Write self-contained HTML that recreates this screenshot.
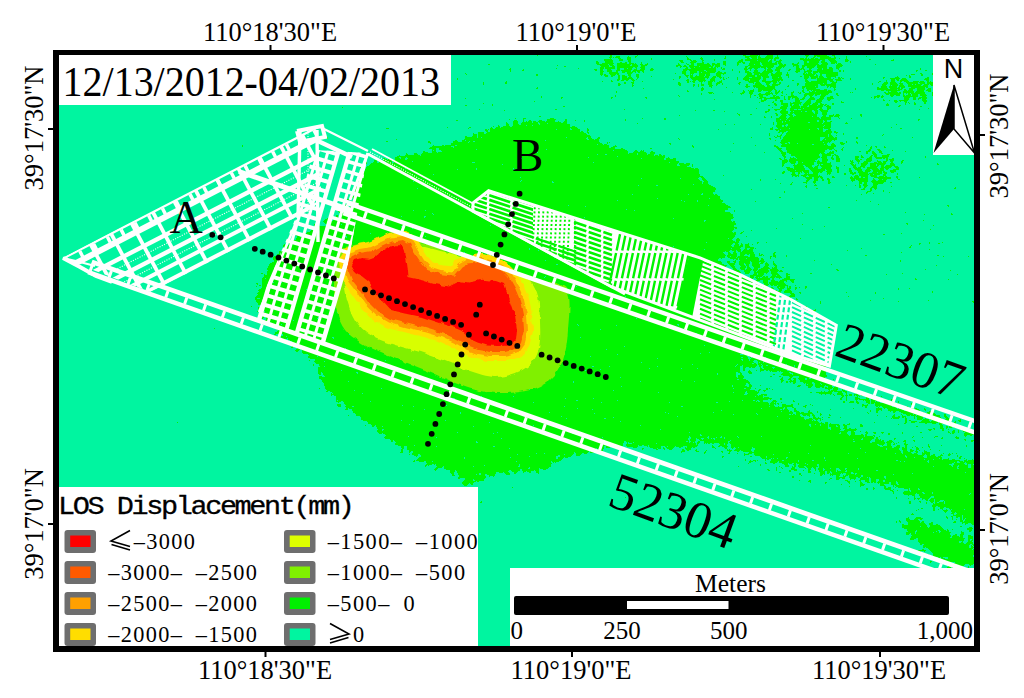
<!DOCTYPE html>
<html><head><meta charset="utf-8">
<style>
html,body{margin:0;padding:0;background:#fff;width:1024px;height:698px;overflow:hidden}
svg{display:block}
.ax{font-family:"Liberation Serif",serif;font-size:26.5px;fill:#000}
.lg{font-family:"Liberation Mono",monospace;font-size:24.5px;fill:#000}
</style></head><body>
<svg width="1024" height="698" viewBox="0 0 1024 698">
<defs><filter id="spkG" x="0" y="0" width="1024" height="698" filterUnits="userSpaceOnUse" color-interpolation-filters="sRGB"><feGaussianBlur in="SourceAlpha" stdDeviation="5" result="b"/><feTurbulence type="fractalNoise" baseFrequency="0.22" numOctaves="2" seed="5" result="t"/><feColorMatrix in="t" type="matrix" values="0 0 0 0 0  0 0 0 0 0  0 0 0 0 0  1 0 0 0 0" result="ta"/><feComposite in="b" in2="ta" operator="arithmetic" k1="0" k2="1.0" k3="1.3" k4="-0.650" result="s"/><feComponentTransfer in="s" result="m"><feFuncA type="discrete" tableValues="0 1"/></feComponentTransfer><feFlood flood-color="#00F500"/><feComposite in2="m" operator="in"/></filter><filter id="spkG2" x="0" y="0" width="1024" height="698" filterUnits="userSpaceOnUse" color-interpolation-filters="sRGB"><feGaussianBlur in="SourceAlpha" stdDeviation="7" result="b"/><feTurbulence type="fractalNoise" baseFrequency="0.2" numOctaves="2" seed="11" result="t"/><feColorMatrix in="t" type="matrix" values="0 0 0 0 0  0 0 0 0 0  0 0 0 0 0  1 0 0 0 0" result="ta"/><feComposite in="b" in2="ta" operator="arithmetic" k1="0" k2="1.0" k3="1.3" k4="-0.650" result="s"/><feComponentTransfer in="s" result="m"><feFuncA type="discrete" tableValues="0 1"/></feComponentTransfer><feFlood flood-color="#00F500"/><feComposite in2="m" operator="in"/></filter><filter id="spkT" x="0" y="0" width="1024" height="698" filterUnits="userSpaceOnUse" color-interpolation-filters="sRGB"><feGaussianBlur in="SourceAlpha" stdDeviation="6" result="b"/><feTurbulence type="fractalNoise" baseFrequency="0.22" numOctaves="2" seed="17" result="t"/><feColorMatrix in="t" type="matrix" values="0 0 0 0 0  0 0 0 0 0  0 0 0 0 0  1 0 0 0 0" result="ta"/><feComposite in="b" in2="ta" operator="arithmetic" k1="0" k2="1.0" k3="1.3" k4="-0.650" result="s"/><feComponentTransfer in="s" result="m"><feFuncA type="discrete" tableValues="0 1"/></feComponentTransfer><feFlood flood-color="#00F5A0"/><feComposite in2="m" operator="in"/></filter><filter id="spkT2" x="0" y="0" width="1024" height="698" filterUnits="userSpaceOnUse" color-interpolation-filters="sRGB"><feGaussianBlur in="SourceAlpha" stdDeviation="8" result="b"/><feTurbulence type="fractalNoise" baseFrequency="0.25" numOctaves="2" seed="23" result="t"/><feColorMatrix in="t" type="matrix" values="0 0 0 0 0  0 0 0 0 0  0 0 0 0 0  1 0 0 0 0" result="ta"/><feComposite in="b" in2="ta" operator="arithmetic" k1="0" k2="1.0" k3="1.6" k4="-0.800" result="s"/><feComponentTransfer in="s" result="m"><feFuncA type="discrete" tableValues="0 1"/></feComponentTransfer><feFlood flood-color="#00F5A0"/><feComposite in2="m" operator="in"/></filter><filter id="spkG3" x="380" y="55" width="600" height="250" filterUnits="userSpaceOnUse" color-interpolation-filters="sRGB"><feGaussianBlur in="SourceAlpha" stdDeviation="6" result="b"/><feTurbulence type="fractalNoise" baseFrequency="0.22" numOctaves="2" seed="29" result="t"/><feColorMatrix in="t" type="matrix" values="0 0 0 0 0  0 0 0 0 0  0 0 0 0 0  1 0 0 0 0" result="ta"/><feComposite in="b" in2="ta" operator="arithmetic" k1="0" k2="0.62" k3="1.8" k4="-0.900" result="s"/><feComponentTransfer in="s" result="m"><feFuncA type="discrete" tableValues="0 1"/></feComponentTransfer><feFlood flood-color="#00F500"/><feComposite in2="m" operator="in"/></filter><filter id="rough" x="300" y="200" width="300" height="220" filterUnits="userSpaceOnUse"><feTurbulence type="fractalNoise" baseFrequency="0.12" numOctaves="2" seed="3"/><feDisplacementMap in="SourceGraphic" scale="5" xChannelSelector="R" yChannelSelector="G"/></filter><clipPath id="stripclip"><polygon points="314,150 368,153 333,348 252,320 294,222"/></clipPath><clipPath id="triclip"><polygon points="62,258 316,124 322,200 292,224 150,292"/></clipPath><clipPath id="indclip"><polygon points="473.0,203.0 488.6,190.7 540.0,207.0 620.0,232.5 700.0,257.8 740.0,274.6 790.0,299.0 836.3,325.3 829.4,366.0 790.0,354.0 612.0,287.0 473.0,211.0"/></clipPath><clipPath id="mc"><rect x="59" y="55" width="915" height="591"/></clipPath></defs>
<rect x="59" y="55" width="915" height="591" fill="#00F5A0"/>
<g clip-path="url(#mc)">
<g filter="url(#spkG)"><path d="M352.0,200.0 C355.3,193.8 357.3,181.2 360.0,175.0 C362.7,168.8 363.0,165.5 368.0,163.0 C373.0,160.5 382.5,161.3 390.0,160.0 C397.5,158.7 403.7,157.3 413.0,155.0 C422.3,152.7 434.8,149.5 446.0,146.0 C457.2,142.5 470.0,137.7 480.0,134.0 C490.0,130.3 497.2,126.2 506.0,124.0 C514.8,121.8 524.0,121.5 533.0,121.0 C542.0,120.5 552.5,119.7 560.0,121.0 C567.5,122.3 571.8,125.8 578.0,129.0 C584.2,132.2 590.7,136.8 597.0,140.0 C603.3,143.2 609.8,146.2 616.0,148.0 C622.2,149.8 627.8,150.2 634.0,151.0 C640.2,151.8 646.8,151.7 653.0,153.0 C659.2,154.3 664.8,156.8 671.0,159.0 C677.2,161.2 685.0,163.0 690.0,166.0 C695.0,169.0 697.0,173.0 701.0,177.0 C705.0,181.0 709.7,185.0 714.0,190.0 C718.3,195.0 723.5,201.7 727.0,207.0 C730.5,212.3 733.8,216.8 735.0,222.0 C736.2,227.2 735.7,233.0 734.0,238.0 C732.3,243.0 727.3,247.3 725.0,252.0 C722.7,256.7 716.7,261.3 720.0,266.0 C723.3,270.7 735.8,275.7 745.0,280.0 C754.2,284.3 765.7,287.8 775.0,292.0 C784.3,296.2 792.2,300.0 801.0,305.0 C809.8,310.0 823.2,315.3 828.0,322.0 C832.8,328.7 830.3,337.7 830.0,345.0 C829.7,352.3 824.3,358.7 826.0,366.0 C827.7,373.3 815.2,377.3 840.0,389.0 C864.8,400.7 952.5,409.5 975.0,436.0 C997.5,462.5 980.0,533.7 975.0,548.0 C970.0,562.3 959.0,530.3 945.0,522.0 C931.0,513.7 908.5,503.8 891.0,498.0 C873.5,492.2 856.5,490.2 840.0,487.0 C823.5,483.8 808.7,483.0 792.0,479.0 C775.3,475.0 756.5,467.7 740.0,463.0 C723.5,458.3 706.3,453.5 693.0,451.0 C679.7,448.5 672.2,448.8 660.0,448.0 C647.8,447.2 629.2,446.2 620.0,446.0 C610.8,445.8 611.5,445.5 605.0,447.0 C598.5,448.5 588.5,453.2 581.0,455.0 C573.5,456.8 566.0,455.5 560.0,458.0 C554.0,460.5 551.3,467.8 545.0,470.0 C538.7,472.2 529.5,470.5 522.0,471.0 C514.5,471.5 505.7,472.2 500.0,473.0 C494.3,473.8 491.7,474.7 488.0,476.0 C484.3,477.3 481.2,479.2 478.0,481.0 C474.8,482.8 471.7,487.3 469.0,487.0 C466.3,486.7 464.8,481.7 462.0,479.0 C459.2,476.3 455.5,472.5 452.0,471.0 C448.5,469.5 444.5,471.0 441.0,470.0 C437.5,469.0 434.5,466.7 431.0,465.0 C427.5,463.3 423.5,462.0 420.0,460.0 C416.5,458.0 413.3,455.3 410.0,453.0 C406.7,450.7 403.3,448.2 400.0,446.0 C396.7,443.8 392.8,442.2 390.0,440.0 C387.2,437.8 385.7,435.3 383.0,433.0 C380.3,430.7 377.0,427.8 374.0,426.0 C371.0,424.2 367.8,424.0 365.0,422.0 C362.2,420.0 360.2,416.5 357.0,414.0 C353.8,411.5 349.2,409.0 346.0,407.0 C342.8,405.0 340.5,404.0 338.0,402.0 C335.5,400.0 333.7,398.0 331.0,395.0 C328.3,392.0 323.8,388.5 322.0,384.0 C320.2,379.5 323.7,373.7 320.0,368.0 C316.3,362.3 309.7,358.3 300.0,350.0 C290.3,341.7 269.2,326.3 262.0,318.0 C254.8,309.7 257.0,306.7 257.0,300.0 C257.0,293.3 259.7,284.3 262.0,278.0 C264.3,271.7 267.2,267.3 271.0,262.0 C274.8,256.7 280.2,250.3 285.0,246.0 C289.8,241.7 294.2,239.3 300.0,236.0 C305.8,232.7 313.3,230.0 320.0,226.0 C326.7,222.0 334.7,216.3 340.0,212.0 C345.3,207.7 348.7,206.2 352.0,200.0 Z" fill="#00F500" /></g>
<g filter="url(#spkG)"><path d="M790.0,116.0 C792.0,112.7 796.2,110.3 800.0,110.0 C803.8,109.7 809.7,111.7 813.0,114.0 C816.3,116.3 818.3,119.7 820.0,124.0 C821.7,128.3 823.2,134.7 823.0,140.0 C822.8,145.3 821.2,152.0 819.0,156.0 C816.8,160.0 813.5,163.0 810.0,164.0 C806.5,165.0 801.2,164.7 798.0,162.0 C794.8,159.3 792.7,153.3 791.0,148.0 C789.3,142.7 788.2,135.3 788.0,130.0 C787.8,124.7 788.0,119.3 790.0,116.0 Z" fill="#00F500" /></g>
<g filter="url(#spkG3)"><path d="M742.0,52.0 C748.3,46.3 774.7,48.3 782.0,52.0 C789.3,55.7 787.0,66.3 786.0,74.0 C785.0,81.7 780.7,93.3 776.0,98.0 C771.3,102.7 763.3,104.0 758.0,102.0 C752.7,100.0 746.7,94.3 744.0,86.0 C741.3,77.7 735.7,57.7 742.0,52.0 Z" fill="#00F500" /><path d="M800.0,52.0 C806.7,46.7 833.0,47.7 840.0,52.0 C847.0,56.3 843.7,69.7 842.0,78.0 C840.3,86.3 835.0,97.7 830.0,102.0 C825.0,106.3 817.0,107.0 812.0,104.0 C807.0,101.0 802.0,92.7 800.0,84.0 C798.0,75.3 793.3,57.3 800.0,52.0 Z" fill="#00F500" /><path d="M776.0,100.0 C780.7,94.3 791.3,95.3 800.0,96.0 C808.7,96.7 821.3,96.7 828.0,104.0 C834.7,111.3 839.3,127.7 840.0,140.0 C840.7,152.3 838.0,170.7 832.0,178.0 C826.0,185.3 812.0,186.0 804.0,184.0 C796.0,182.0 789.3,175.0 784.0,166.0 C778.7,157.0 773.3,141.0 772.0,130.0 C770.7,119.0 771.3,105.7 776.0,100.0 Z" fill="#00F500" /><path d="M880.0,80.0 C888.7,76.7 921.3,72.7 930.0,76.0 C938.7,79.3 937.0,95.3 932.0,100.0 C927.0,104.7 909.0,104.7 900.0,104.0 C891.0,103.3 881.3,100.0 878.0,96.0 C874.7,92.0 871.3,83.3 880.0,80.0 Z" fill="#00F500" /><path d="M600.0,58.0 C606.7,55.3 632.3,55.3 640.0,58.0 C647.7,60.7 648.7,69.7 646.0,74.0 C643.3,78.3 631.7,84.0 624.0,84.0 C616.3,84.0 604.0,78.3 600.0,74.0 C596.0,69.7 593.3,60.7 600.0,58.0 Z" fill="#00F500" /><path d="M680.0,60.0 C686.7,57.0 712.7,56.7 720.0,60.0 C727.3,63.3 727.3,75.0 724.0,80.0 C720.7,85.0 707.3,90.3 700.0,90.0 C692.7,89.7 683.3,83.0 680.0,78.0 C676.7,73.0 673.3,63.0 680.0,60.0 Z" fill="#00F500" /><path d="M850.0,160.0 C854.7,154.3 871.7,148.3 880.0,150.0 C888.3,151.7 900.0,163.3 900.0,170.0 C900.0,176.7 888.0,187.7 880.0,190.0 C872.0,192.3 857.0,189.0 852.0,184.0 C847.0,179.0 845.3,165.7 850.0,160.0 Z" fill="#00F500" /><path d="M726.0,232.0 C728.5,227.3 736.8,235.0 745.0,240.0 C753.2,245.0 765.8,253.7 775.0,262.0 C784.2,270.3 797.5,283.7 800.0,290.0 C802.5,296.3 796.7,300.7 790.0,300.0 C783.3,299.3 770.0,291.3 760.0,286.0 C750.0,280.7 735.7,277.0 730.0,268.0 C724.3,259.0 723.5,236.7 726.0,232.0 Z" fill="#00F500" /></g>
<g filter="url(#spkT2)"><path d="M745.0,362.0 C754.2,362.0 779.2,375.0 800.0,382.0 C820.8,389.0 846.7,396.7 870.0,404.0 C893.3,411.3 922.5,420.7 940.0,426.0 C957.5,431.3 969.2,430.0 975.0,436.0 C980.8,442.0 982.5,458.8 975.0,462.0 C967.5,465.2 945.8,458.7 930.0,455.0 C914.2,451.3 898.3,445.8 880.0,440.0 C861.7,434.2 838.3,426.7 820.0,420.0 C801.7,413.3 782.5,406.3 770.0,400.0 C757.5,393.7 749.2,388.3 745.0,382.0 C740.8,375.7 735.8,362.0 745.0,362.0 Z" fill="#00F5A0" /></g>
<g filter="url(#spkT2)"><path d="M700.0,440.0 C715.0,441.0 758.3,458.3 790.0,466.0 C821.7,473.7 864.2,478.7 890.0,486.0 C915.8,493.3 930.8,502.7 945.0,510.0 C959.2,517.3 970.0,523.7 975.0,530.0 C980.0,536.3 980.0,547.2 975.0,548.0 C970.0,548.8 959.2,541.3 945.0,535.0 C930.8,528.7 915.8,517.5 890.0,510.0 C864.2,502.5 821.7,498.3 790.0,490.0 C758.3,481.7 715.0,468.3 700.0,460.0 C685.0,451.7 685.0,439.0 700.0,440.0 Z" fill="#00F5A0" /></g>
<g filter="url(#spkG2)"><path d="M900.0,515.0 C904.2,512.5 932.5,524.5 945.0,530.0 C957.5,535.5 970.0,542.0 975.0,548.0 C980.0,554.0 979.2,563.0 975.0,566.0 C970.8,569.0 959.2,569.5 950.0,566.0 C940.8,562.5 928.3,553.5 920.0,545.0 C911.7,536.5 895.8,517.5 900.0,515.0 Z" fill="#00F500" /></g>
<g filter="url(#rough)"><path d="M336.0,262.0 C337.0,255.3 337.7,252.7 340.0,250.0 C342.3,247.3 345.5,247.3 350.0,246.0 C354.5,244.7 360.0,243.2 367.0,242.0 C374.0,240.8 385.7,239.8 392.0,239.0 C398.3,238.2 395.3,234.8 405.0,237.0 C414.7,239.2 434.2,246.8 450.0,252.0 C465.8,257.2 485.0,263.3 500.0,268.0 C515.0,272.7 528.8,276.3 540.0,280.0 C551.2,283.7 562.3,281.7 567.0,290.0 C571.7,298.3 568.7,318.3 568.0,330.0 C567.3,341.7 566.0,351.7 563.0,360.0 C560.0,368.3 555.5,375.0 550.0,380.0 C544.5,385.0 537.5,387.8 530.0,390.0 C522.5,392.2 513.3,392.8 505.0,393.0 C496.7,393.2 488.3,392.7 480.0,391.0 C471.7,389.3 463.3,386.2 455.0,383.0 C446.7,379.8 438.3,375.5 430.0,372.0 C421.7,368.5 413.3,365.3 405.0,362.0 C396.7,358.7 387.5,355.3 380.0,352.0 C372.5,348.7 365.8,345.7 360.0,342.0 C354.2,338.3 348.8,335.0 345.0,330.0 C341.2,325.0 338.8,318.7 337.0,312.0 C335.2,305.3 334.2,298.3 334.0,290.0 C333.8,281.7 335.0,268.7 336.0,262.0 Z" fill="#80F000" />
<path d="M344.0,266.0 C344.7,259.2 346.3,257.0 350.0,254.0 C353.7,251.0 359.0,249.8 366.0,248.0 C373.0,246.2 384.3,243.7 392.0,243.0 C399.7,242.3 400.7,241.8 412.0,244.0 C423.3,246.2 443.7,251.7 460.0,256.0 C476.3,260.3 498.7,266.2 510.0,270.0 C521.3,273.8 523.7,275.7 528.0,279.0 C532.3,282.3 534.2,285.7 536.0,290.0 C537.8,294.3 538.3,296.7 539.0,305.0 C539.7,313.3 540.8,330.8 540.0,340.0 C539.2,349.2 537.7,354.7 534.0,360.0 C530.3,365.3 524.5,369.2 518.0,372.0 C511.5,374.8 503.0,377.2 495.0,377.0 C487.0,376.8 478.3,373.7 470.0,371.0 C461.7,368.3 453.3,364.2 445.0,361.0 C436.7,357.8 428.3,354.7 420.0,352.0 C411.7,349.3 403.0,347.7 395.0,345.0 C387.0,342.3 378.7,340.2 372.0,336.0 C365.3,331.8 359.3,326.8 355.0,320.0 C350.7,313.2 347.8,304.0 346.0,295.0 C344.2,286.0 343.3,272.8 344.0,266.0 Z" fill="#D8FF00" />
<path d="M347.0,262.0 L351.0,256.0 L360.0,253.0 L372.0,251.0 L382.0,246.0 L392.0,241.5 L404.0,240.0 L410.0,244.0 L414.0,252.0 L420.5,262.0 L427.4,270.0 L441.0,274.3 L454.7,275.7 L461.6,267.5 L468.4,263.4 L482.0,262.0 L493.0,264.7 L502.6,270.2 L508.0,275.7 L515.0,288.0 L520.0,300.0 L523.0,315.0 L524.0,330.0 L521.0,342.0 L516.0,349.0 L505.0,352.0 L490.0,352.0 L478.0,350.0 L468.0,346.0 L458.0,340.0 L445.0,334.0 L425.0,328.0 L405.0,323.0 L390.0,319.0 L378.0,312.0 L368.0,302.0 L360.0,290.0 L352.0,280.0 L348.0,270.0 Z" fill="#FFDD00" stroke="#FFDD00" stroke-width="18" stroke-linejoin="round"/>
<path d="M347.0,262.0 L351.0,256.0 L360.0,253.0 L372.0,251.0 L382.0,246.0 L392.0,241.5 L404.0,240.0 L410.0,244.0 L414.0,252.0 L420.5,262.0 L427.4,270.0 L441.0,274.3 L454.7,275.7 L461.6,267.5 L468.4,263.4 L482.0,262.0 L493.0,264.7 L502.6,270.2 L508.0,275.7 L515.0,288.0 L520.0,300.0 L523.0,315.0 L524.0,330.0 L521.0,342.0 L516.0,349.0 L505.0,352.0 L490.0,352.0 L478.0,350.0 L468.0,346.0 L458.0,340.0 L445.0,334.0 L425.0,328.0 L405.0,323.0 L390.0,319.0 L378.0,312.0 L368.0,302.0 L360.0,290.0 L352.0,280.0 L348.0,270.0 Z" fill="#FFA000" stroke="#FFA000" stroke-width="8" stroke-linejoin="round"/>
<path d="M347.0,262.0 L351.0,256.0 L360.0,253.0 L372.0,251.0 L382.0,246.0 L392.0,241.5 L404.0,240.0 L410.0,244.0 L414.0,252.0 L420.5,262.0 L427.4,270.0 L441.0,274.3 L454.7,275.7 L461.6,267.5 L468.4,263.4 L482.0,262.0 L493.0,264.7 L502.6,270.2 L508.0,275.7 L515.0,288.0 L520.0,300.0 L523.0,315.0 L524.0,330.0 L521.0,342.0 L516.0,349.0 L505.0,352.0 L490.0,352.0 L478.0,350.0 L468.0,346.0 L458.0,340.0 L445.0,334.0 L425.0,328.0 L405.0,323.0 L390.0,319.0 L378.0,312.0 L368.0,302.0 L360.0,290.0 L352.0,280.0 L348.0,270.0 Z" fill="#FF5A00"/>
<path d="M351.0,265.0 L354.0,260.0 L361.5,258.0 L369.0,258.7 L375.7,256.3 L382.0,251.6 L388.4,247.6 L394.7,245.3 L402.6,245.3 L405.0,250.8 L406.5,260.0 L408.0,271.0 L408.5,277.0 L420.5,279.8 L434.0,284.0 L448.0,286.6 L459.0,281.0 L468.4,282.5 L482.0,279.8 L495.8,281.0 L504.0,284.0 L507.0,293.0 L511.0,303.0 L515.0,315.0 L517.0,330.0 L516.0,340.0 L512.0,345.6 L499.0,346.0 L487.0,345.6 L477.5,342.5 L471.0,339.4 L463.4,331.6 L452.5,327.0 L437.0,322.0 L421.0,316.7 L405.6,313.6 L390.0,309.7 L383.6,302.8 L377.3,295.0 L369.4,282.3 L361.5,276.0 L355.0,272.0 Z" fill="#FF0000"/></g>
<g><line x1="88.2" y1="272.2" x2="988.2" y2="589.4" stroke="#fff" stroke-width="4.5" />
<line x1="91.8" y1="261.9" x2="991.8" y2="579.1" stroke="#fff" stroke-width="4.7" />
<line x1="90.0" y1="267.1" x2="990.0" y2="584.3" stroke="#fff" stroke-width="6.8999999999999995" stroke-dasharray="3 17" stroke-dashoffset="0"/>
<polyline points="63.0,258.0 80.0,267.0 96.0,276.0 112.0,282.0" fill="none" stroke="#fff" stroke-width="4" />
<polyline points="63.0,258.0 80.0,262.0 95.0,266.0" fill="none" stroke="#fff" stroke-width="2.2" />
<line x1="239.0" y1="171.5" x2="352.0" y2="210.6" stroke="#fff" stroke-width="5" />
<line x1="343.3" y1="213.1" x2="988.3" y2="437.1" stroke="#fff" stroke-width="4.5" />
<line x1="346.8" y1="203.1" x2="991.8" y2="427.0" stroke="#fff" stroke-width="4.2" />
<line x1="345.0" y1="208.0" x2="990.0" y2="432.0" stroke="#fff" stroke-width="6.8999999999999995" stroke-dasharray="3 17" stroke-dashoffset="0"/>
<g clip-path="url(#triclip)"><g transform="translate(64,258) rotate(-27.288)"><line x1="-10.0" y1="0.0" x2="303.6" y2="0.0" stroke="#fff" stroke-width="2.2" />
<line x1="-10.0" y1="10.0" x2="303.6" y2="10.0" stroke="#fff" stroke-width="6" />
<line x1="-10.0" y1="26.0" x2="303.6" y2="26.0" stroke="#fff" stroke-width="4.4" />
<line x1="-10.0" y1="42.0" x2="303.6" y2="42.0" stroke="#fff" stroke-width="4.4" />
<line x1="-10.0" y1="56.0" x2="303.6" y2="56.0" stroke="#fff" stroke-width="4" />
<line x1="-10.0" y1="68.0" x2="303.6" y2="68.0" stroke="#fff" stroke-width="4" />
<line x1="30.0" y1="0.0" x2="31.0" y2="70.0" stroke="#fff" stroke-width="3.8" />
<line x1="53.0" y1="0.0" x2="54.0" y2="70.0" stroke="#fff" stroke-width="3.8" />
<line x1="76.0" y1="0.0" x2="77.0" y2="70.0" stroke="#fff" stroke-width="3.8" />
<line x1="100.0" y1="0.0" x2="101.0" y2="70.0" stroke="#fff" stroke-width="3.8" />
<line x1="124.0" y1="0.0" x2="125.0" y2="70.0" stroke="#fff" stroke-width="3.8" />
<line x1="148.0" y1="0.0" x2="149.0" y2="70.0" stroke="#fff" stroke-width="3.8" />
<line x1="172.0" y1="0.0" x2="173.0" y2="70.0" stroke="#fff" stroke-width="3.8" />
<line x1="196.0" y1="0.0" x2="197.0" y2="70.0" stroke="#fff" stroke-width="3.8" />
<line x1="220.0" y1="0.0" x2="221.0" y2="70.0" stroke="#fff" stroke-width="3.8" />
<line x1="244.0" y1="0.0" x2="245.0" y2="70.0" stroke="#fff" stroke-width="3.8" />
<line x1="268.0" y1="0.0" x2="269.0" y2="70.0" stroke="#fff" stroke-width="3.8" />
<line x1="0.0" y1="4.2" x2="283.6" y2="4.2" stroke="#fff" stroke-width="6.5" stroke-dasharray="3.5 12" stroke-opacity="1"/>
<line x1="-10.0" y1="34.0" x2="303.6" y2="34.0" stroke="#fff" stroke-width="1.1" stroke-dasharray="1.1 1.4"/>
<line x1="-10.0" y1="49.0" x2="303.6" y2="49.0" stroke="#fff" stroke-width="1.1" stroke-dasharray="1.1 1.4"/></g></g>
<polyline points="297.0,131.0 322.0,126.0 325.0,137.0 300.0,142.0 297.0,131.0" fill="none" stroke="#fff" stroke-width="4" />
<line x1="300.0" y1="132.0" x2="298.0" y2="218.0" stroke="#fff" stroke-width="3.4" />
<line x1="317.0" y1="130.0" x2="318.0" y2="242.0" stroke="#fff" stroke-width="3.4" />
<line x1="308.0" y1="131.0" x2="308.0" y2="225.0" stroke="#fff" stroke-width="1.1" stroke-dasharray="1.1 1.4"/>
<line x1="318.0" y1="141.0" x2="352.0" y2="157.0" stroke="#fff" stroke-width="4.5" />
<line x1="322.0" y1="128.0" x2="368.0" y2="151.0" stroke="#fff" stroke-width="2.2" />
<g clip-path="url(#stripclip)"><g transform="translate(285.3,230) rotate(16.3)">
<line x1="9.5" y1="-100.0" x2="9.5" y2="130.0" stroke="#fff" stroke-width="3.0" />
<line x1="19.0" y1="-100.0" x2="19.0" y2="130.0" stroke="#fff" stroke-width="3.0" />
<line x1="49.0" y1="-100.0" x2="49.0" y2="130.0" stroke="#fff" stroke-width="3.0" />
<line x1="58.0" y1="-100.0" x2="58.0" y2="130.0" stroke="#fff" stroke-width="3.0" />
<line x1="0.0" y1="-116.4" x2="29.0" y2="-116.4" stroke="#fff" stroke-width="4.0" />
<line x1="40.0" y1="-112.4" x2="68.0" y2="-112.4" stroke="#fff" stroke-width="3.6" />
<line x1="0.0" y1="-106.7" x2="29.0" y2="-106.7" stroke="#fff" stroke-width="4.0" />
<line x1="40.0" y1="-102.7" x2="68.0" y2="-102.7" stroke="#fff" stroke-width="3.6" />
<line x1="0.0" y1="-97.0" x2="29.0" y2="-97.0" stroke="#fff" stroke-width="4.0" />
<line x1="40.0" y1="-93.0" x2="68.0" y2="-93.0" stroke="#fff" stroke-width="3.6" />
<line x1="0.0" y1="-87.3" x2="29.0" y2="-87.3" stroke="#fff" stroke-width="4.0" />
<line x1="40.0" y1="-83.3" x2="68.0" y2="-83.3" stroke="#fff" stroke-width="3.6" />
<line x1="0.0" y1="-77.6" x2="29.0" y2="-77.6" stroke="#fff" stroke-width="4.0" />
<line x1="40.0" y1="-73.6" x2="68.0" y2="-73.6" stroke="#fff" stroke-width="3.6" />
<line x1="0.0" y1="-67.9" x2="29.0" y2="-67.9" stroke="#fff" stroke-width="4.0" />
<line x1="40.0" y1="-63.9" x2="68.0" y2="-63.9" stroke="#fff" stroke-width="3.6" />
<line x1="0.0" y1="-58.2" x2="29.0" y2="-58.2" stroke="#fff" stroke-width="4.0" />
<line x1="40.0" y1="-54.2" x2="68.0" y2="-54.2" stroke="#fff" stroke-width="3.6" />
<line x1="0.0" y1="-48.5" x2="29.0" y2="-48.5" stroke="#fff" stroke-width="4.0" />
<line x1="40.0" y1="-44.5" x2="68.0" y2="-44.5" stroke="#fff" stroke-width="3.6" />
<line x1="0.0" y1="-38.8" x2="29.0" y2="-38.8" stroke="#fff" stroke-width="4.0" />
<line x1="40.0" y1="-34.8" x2="68.0" y2="-34.8" stroke="#fff" stroke-width="3.6" />
<line x1="0.0" y1="-29.1" x2="29.0" y2="-29.1" stroke="#fff" stroke-width="4.0" />
<line x1="40.0" y1="-25.1" x2="68.0" y2="-25.1" stroke="#fff" stroke-width="3.6" />
<line x1="0.0" y1="-19.4" x2="29.0" y2="-19.4" stroke="#fff" stroke-width="4.0" />
<line x1="40.0" y1="-15.4" x2="68.0" y2="-15.4" stroke="#fff" stroke-width="3.6" />
<line x1="0.0" y1="-9.7" x2="29.0" y2="-9.7" stroke="#fff" stroke-width="4.0" />
<line x1="40.0" y1="-5.7" x2="68.0" y2="-5.7" stroke="#fff" stroke-width="3.6" />
<line x1="0.0" y1="0.0" x2="29.0" y2="0.0" stroke="#fff" stroke-width="4.0" />
<line x1="40.0" y1="4.0" x2="68.0" y2="4.0" stroke="#fff" stroke-width="3.6" />
<line x1="0.0" y1="9.7" x2="29.0" y2="9.7" stroke="#fff" stroke-width="4.0" />
<line x1="40.0" y1="13.7" x2="68.0" y2="13.7" stroke="#fff" stroke-width="3.6" />
<line x1="0.0" y1="19.4" x2="29.0" y2="19.4" stroke="#fff" stroke-width="4.0" />
<line x1="40.0" y1="23.4" x2="68.0" y2="23.4" stroke="#fff" stroke-width="3.6" />
<line x1="0.0" y1="29.1" x2="29.0" y2="29.1" stroke="#fff" stroke-width="4.0" />
<line x1="40.0" y1="33.1" x2="68.0" y2="33.1" stroke="#fff" stroke-width="3.6" />
<line x1="0.0" y1="38.8" x2="29.0" y2="38.8" stroke="#fff" stroke-width="4.0" />
<line x1="40.0" y1="42.8" x2="68.0" y2="42.8" stroke="#fff" stroke-width="3.6" />
<line x1="0.0" y1="48.5" x2="29.0" y2="48.5" stroke="#fff" stroke-width="4.0" />
<line x1="40.0" y1="52.5" x2="68.0" y2="52.5" stroke="#fff" stroke-width="3.6" />
<line x1="0.0" y1="58.2" x2="29.0" y2="58.2" stroke="#fff" stroke-width="4.0" />
<line x1="40.0" y1="62.2" x2="68.0" y2="62.2" stroke="#fff" stroke-width="3.6" />
<line x1="0.0" y1="67.9" x2="29.0" y2="67.9" stroke="#fff" stroke-width="4.0" />
<line x1="40.0" y1="71.9" x2="68.0" y2="71.9" stroke="#fff" stroke-width="3.6" />
<line x1="0.0" y1="77.6" x2="29.0" y2="77.6" stroke="#fff" stroke-width="4.0" />
<line x1="40.0" y1="81.6" x2="68.0" y2="81.6" stroke="#fff" stroke-width="3.6" />
<line x1="0.0" y1="87.3" x2="29.0" y2="87.3" stroke="#fff" stroke-width="4.0" />
<line x1="40.0" y1="91.3" x2="68.0" y2="91.3" stroke="#fff" stroke-width="3.6" />
<line x1="0.0" y1="97.0" x2="29.0" y2="97.0" stroke="#fff" stroke-width="4.0" />
<line x1="40.0" y1="101.0" x2="68.0" y2="101.0" stroke="#fff" stroke-width="3.6" />
<line x1="0.0" y1="106.7" x2="29.0" y2="106.7" stroke="#fff" stroke-width="4.0" />
<line x1="40.0" y1="110.7" x2="68.0" y2="110.7" stroke="#fff" stroke-width="3.6" />
<line x1="0.0" y1="116.4" x2="29.0" y2="116.4" stroke="#fff" stroke-width="4.0" />
<line x1="40.0" y1="120.4" x2="68.0" y2="120.4" stroke="#fff" stroke-width="3.6" />
<line x1="0.0" y1="126.1" x2="29.0" y2="126.1" stroke="#fff" stroke-width="4.0" />
<line x1="40.0" y1="130.1" x2="68.0" y2="130.1" stroke="#fff" stroke-width="3.6" />
<line x1="0.0" y1="135.8" x2="29.0" y2="135.8" stroke="#fff" stroke-width="4.0" />
<line x1="40.0" y1="139.8" x2="68.0" y2="139.8" stroke="#fff" stroke-width="3.6" />
<line x1="0.0" y1="145.5" x2="29.0" y2="145.5" stroke="#fff" stroke-width="4.0" />
<line x1="40.0" y1="149.5" x2="68.0" y2="149.5" stroke="#fff" stroke-width="3.6" />
<line x1="0.0" y1="-100.0" x2="0.0" y2="130.0" stroke="#fff" stroke-width="4.5" />
<line x1="29.0" y1="-100.0" x2="29.0" y2="130.0" stroke="#fff" stroke-width="4.2" />
<line x1="40.0" y1="-100.0" x2="40.0" y2="130.0" stroke="#fff" stroke-width="4.4" />
<line x1="67.5" y1="-100.0" x2="67.5" y2="130.0" stroke="#fff" stroke-width="4.6" />
</g></g>
<line x1="297.0" y1="220.0" x2="259.0" y2="312.0" stroke="#fff" stroke-width="2.6" />
<line x1="368.0" y1="153.0" x2="350.0" y2="200.0" stroke="#fff" stroke-width="3" />
<line x1="368.0" y1="154.0" x2="625.0" y2="294.0" stroke="#fff" stroke-width="3" />
<line x1="372.0" y1="149.0" x2="500.0" y2="218.0" stroke="#fff" stroke-width="1.8" />
<line x1="370.0" y1="152.0" x2="520.0" y2="233.0" stroke="#fff" stroke-width="1.1" stroke-dasharray="1.1 1.4"/>
<g clip-path="url(#indclip)"><polygon points="473.0,203.0 488.6,190.7 540.0,207.0 620.0,232.5 700.0,257.8 740.0,274.6 790.0,299.0 836.3,325.3 829.4,366.0 790.0,354.0 612.0,287.0 473.0,211.0" fill="#fff"/>
<line x1="466.0" y1="183.0" x2="576.0" y2="219.3" stroke="#00F500" stroke-width="2.7" stroke-dasharray="22 2.5"/>
<line x1="466.0" y1="187.6" x2="576.0" y2="223.9" stroke="#00F500" stroke-width="2.7" stroke-dasharray="22 2.5"/>
<line x1="466.0" y1="192.2" x2="576.0" y2="228.5" stroke="#00F500" stroke-width="2.7" stroke-dasharray="22 2.5"/>
<line x1="466.0" y1="196.8" x2="576.0" y2="233.1" stroke="#00F500" stroke-width="2.7" stroke-dasharray="22 2.5"/>
<line x1="466.0" y1="201.4" x2="576.0" y2="237.7" stroke="#00F500" stroke-width="2.7" stroke-dasharray="22 2.5"/>
<line x1="466.0" y1="206.0" x2="576.0" y2="242.3" stroke="#00F500" stroke-width="2.7" stroke-dasharray="22 2.5"/>
<line x1="466.0" y1="210.6" x2="576.0" y2="246.9" stroke="#00F500" stroke-width="2.7" stroke-dasharray="22 2.5"/>
<line x1="466.0" y1="215.2" x2="576.0" y2="251.5" stroke="#00F500" stroke-width="2.7" stroke-dasharray="22 2.5"/>
<line x1="466.0" y1="219.8" x2="576.0" y2="256.1" stroke="#00F500" stroke-width="2.7" stroke-dasharray="22 2.5"/>
<line x1="466.0" y1="224.4" x2="576.0" y2="260.7" stroke="#00F500" stroke-width="2.7" stroke-dasharray="22 2.5"/>
<line x1="466.0" y1="229.0" x2="576.0" y2="265.3" stroke="#00F500" stroke-width="2.7" stroke-dasharray="22 2.5"/>
<line x1="466.0" y1="233.6" x2="576.0" y2="269.9" stroke="#00F500" stroke-width="2.7" stroke-dasharray="22 2.5"/>
<line x1="466.0" y1="238.2" x2="576.0" y2="274.5" stroke="#00F500" stroke-width="2.7" stroke-dasharray="22 2.5"/>
<line x1="466.0" y1="242.8" x2="576.0" y2="279.1" stroke="#00F500" stroke-width="2.7" stroke-dasharray="22 2.5"/>
<line x1="466.0" y1="247.4" x2="576.0" y2="283.7" stroke="#00F500" stroke-width="2.7" stroke-dasharray="22 2.5"/>
<line x1="466.0" y1="252.0" x2="576.0" y2="288.3" stroke="#00F500" stroke-width="2.7" stroke-dasharray="22 2.5"/>
<line x1="466.0" y1="256.6" x2="576.0" y2="292.9" stroke="#00F500" stroke-width="2.7" stroke-dasharray="22 2.5"/>
<line x1="466.0" y1="261.2" x2="576.0" y2="297.5" stroke="#00F500" stroke-width="2.7" stroke-dasharray="22 2.5"/>
<line x1="466.0" y1="265.8" x2="576.0" y2="302.1" stroke="#00F500" stroke-width="2.7" stroke-dasharray="22 2.5"/>
<line x1="466.0" y1="270.4" x2="576.0" y2="306.7" stroke="#00F500" stroke-width="2.7" stroke-dasharray="22 2.5"/>
<line x1="466.0" y1="275.0" x2="576.0" y2="311.3" stroke="#00F500" stroke-width="2.7" stroke-dasharray="22 2.5"/>
<line x1="466.0" y1="279.6" x2="576.0" y2="315.9" stroke="#00F500" stroke-width="2.7" stroke-dasharray="22 2.5"/>
<polygon points="533,205 574,218 574,250 533,236" fill="#fff"/>
<line x1="535.0" y1="203.0" x2="532.0" y2="262.0" stroke="#00F500" stroke-width="1.9" stroke-dasharray="2 2.2"/>
<line x1="539.4" y1="203.0" x2="536.4" y2="262.0" stroke="#00F500" stroke-width="1.9" stroke-dasharray="2 2.2"/>
<line x1="543.8" y1="203.0" x2="540.8" y2="262.0" stroke="#00F500" stroke-width="1.9" stroke-dasharray="2 2.2"/>
<line x1="548.2" y1="203.0" x2="545.2" y2="262.0" stroke="#00F500" stroke-width="1.9" stroke-dasharray="2 2.2"/>
<line x1="552.6" y1="203.0" x2="549.6" y2="262.0" stroke="#00F500" stroke-width="1.9" stroke-dasharray="2 2.2"/>
<line x1="557.0" y1="203.0" x2="554.0" y2="262.0" stroke="#00F500" stroke-width="1.9" stroke-dasharray="2 2.2"/>
<line x1="561.4" y1="203.0" x2="558.4" y2="262.0" stroke="#00F500" stroke-width="1.9" stroke-dasharray="2 2.2"/>
<line x1="565.8" y1="203.0" x2="562.8" y2="262.0" stroke="#00F500" stroke-width="1.9" stroke-dasharray="2 2.2"/>
<line x1="570.2" y1="203.0" x2="567.2" y2="262.0" stroke="#00F500" stroke-width="1.9" stroke-dasharray="2 2.2"/>
<line x1="574.0" y1="212.0" x2="612.0" y2="224.9" stroke="#00F500" stroke-width="2.6" stroke-dasharray="13 2.5"/>
<line x1="574.0" y1="217.0" x2="612.0" y2="229.9" stroke="#00F500" stroke-width="2.6" stroke-dasharray="13 2.5"/>
<line x1="574.0" y1="222.0" x2="612.0" y2="234.9" stroke="#00F500" stroke-width="2.6" stroke-dasharray="13 2.5"/>
<line x1="574.0" y1="227.0" x2="612.0" y2="239.9" stroke="#00F500" stroke-width="2.6" stroke-dasharray="13 2.5"/>
<line x1="574.0" y1="232.0" x2="612.0" y2="244.9" stroke="#00F500" stroke-width="2.6" stroke-dasharray="13 2.5"/>
<line x1="574.0" y1="237.0" x2="612.0" y2="249.9" stroke="#00F500" stroke-width="2.6" stroke-dasharray="13 2.5"/>
<line x1="574.0" y1="242.0" x2="612.0" y2="254.9" stroke="#00F500" stroke-width="2.6" stroke-dasharray="13 2.5"/>
<line x1="574.0" y1="247.0" x2="612.0" y2="259.9" stroke="#00F500" stroke-width="2.6" stroke-dasharray="13 2.5"/>
<line x1="574.0" y1="252.0" x2="612.0" y2="264.9" stroke="#00F500" stroke-width="2.6" stroke-dasharray="13 2.5"/>
<line x1="574.0" y1="257.0" x2="612.0" y2="269.9" stroke="#00F500" stroke-width="2.6" stroke-dasharray="13 2.5"/>
<line x1="574.0" y1="262.0" x2="612.0" y2="274.9" stroke="#00F500" stroke-width="2.6" stroke-dasharray="13 2.5"/>
<line x1="574.0" y1="267.0" x2="612.0" y2="279.9" stroke="#00F500" stroke-width="2.6" stroke-dasharray="13 2.5"/>
<line x1="574.0" y1="272.0" x2="612.0" y2="284.9" stroke="#00F500" stroke-width="2.6" stroke-dasharray="13 2.5"/>
<line x1="574.0" y1="277.0" x2="612.0" y2="289.9" stroke="#00F500" stroke-width="2.6" stroke-dasharray="13 2.5"/>
<line x1="622.0" y1="225.0" x2="604.0" y2="310.0" stroke="#00F500" stroke-width="2.4" stroke-dasharray="26 2.5"/>
<line x1="627.6" y1="225.0" x2="609.6" y2="310.0" stroke="#00F500" stroke-width="2.4" stroke-dasharray="26 2.5"/>
<line x1="633.2" y1="225.0" x2="615.2" y2="310.0" stroke="#00F500" stroke-width="2.4" stroke-dasharray="26 2.5"/>
<line x1="638.8" y1="225.0" x2="620.8" y2="310.0" stroke="#00F500" stroke-width="2.4" stroke-dasharray="26 2.5"/>
<line x1="644.4" y1="225.0" x2="626.4" y2="310.0" stroke="#00F500" stroke-width="2.4" stroke-dasharray="26 2.5"/>
<line x1="650.0" y1="225.0" x2="632.0" y2="310.0" stroke="#00F500" stroke-width="2.4" stroke-dasharray="26 2.5"/>
<line x1="655.6" y1="225.0" x2="637.6" y2="310.0" stroke="#00F500" stroke-width="2.4" stroke-dasharray="26 2.5"/>
<line x1="661.2" y1="225.0" x2="643.2" y2="310.0" stroke="#00F500" stroke-width="2.4" stroke-dasharray="26 2.5"/>
<line x1="666.8" y1="225.0" x2="648.8" y2="310.0" stroke="#00F500" stroke-width="2.4" stroke-dasharray="26 2.5"/>
<line x1="672.4" y1="225.0" x2="654.4" y2="310.0" stroke="#00F500" stroke-width="2.4" stroke-dasharray="26 2.5"/>
<line x1="678.0" y1="225.0" x2="660.0" y2="310.0" stroke="#00F500" stroke-width="2.4" stroke-dasharray="26 2.5"/>
<line x1="683.6" y1="225.0" x2="665.6" y2="310.0" stroke="#00F500" stroke-width="2.4" stroke-dasharray="26 2.5"/>
<line x1="689.2" y1="225.0" x2="671.2" y2="310.0" stroke="#00F500" stroke-width="2.4" stroke-dasharray="26 2.5"/>
<line x1="694.8" y1="225.0" x2="676.8" y2="310.0" stroke="#00F500" stroke-width="2.4" stroke-dasharray="26 2.5"/>
<polygon points="690,252 704,257 692,318 676,312" fill="#00F500"/>
<line x1="700.0" y1="256.0" x2="776.0" y2="286.4" stroke="#00F500" stroke-width="2.0" stroke-dasharray="12 3"/>
<line x1="700.0" y1="260.8" x2="776.0" y2="291.2" stroke="#00F500" stroke-width="2.0" stroke-dasharray="12 3"/>
<line x1="700.0" y1="265.6" x2="776.0" y2="296.0" stroke="#00F500" stroke-width="2.0" stroke-dasharray="12 3"/>
<line x1="700.0" y1="270.4" x2="776.0" y2="300.8" stroke="#00F500" stroke-width="2.0" stroke-dasharray="12 3"/>
<line x1="700.0" y1="275.2" x2="776.0" y2="305.6" stroke="#00F500" stroke-width="2.0" stroke-dasharray="12 3"/>
<line x1="700.0" y1="280.0" x2="776.0" y2="310.4" stroke="#00F500" stroke-width="2.0" stroke-dasharray="12 3"/>
<line x1="700.0" y1="284.8" x2="776.0" y2="315.2" stroke="#00F500" stroke-width="2.0" stroke-dasharray="12 3"/>
<line x1="700.0" y1="289.6" x2="776.0" y2="320.0" stroke="#00F500" stroke-width="2.0" stroke-dasharray="12 3"/>
<line x1="700.0" y1="294.4" x2="776.0" y2="324.8" stroke="#00F500" stroke-width="2.0" stroke-dasharray="12 3"/>
<line x1="700.0" y1="299.2" x2="776.0" y2="329.6" stroke="#00F500" stroke-width="2.0" stroke-dasharray="12 3"/>
<line x1="700.0" y1="304.0" x2="776.0" y2="334.4" stroke="#00F500" stroke-width="2.0" stroke-dasharray="12 3"/>
<line x1="700.0" y1="308.8" x2="776.0" y2="339.2" stroke="#00F500" stroke-width="2.0" stroke-dasharray="12 3"/>
<line x1="700.0" y1="313.6" x2="776.0" y2="344.0" stroke="#00F500" stroke-width="2.0" stroke-dasharray="12 3"/>
<line x1="700.0" y1="318.4" x2="776.0" y2="348.8" stroke="#00F500" stroke-width="2.0" stroke-dasharray="12 3"/>
<line x1="700.0" y1="323.2" x2="776.0" y2="353.6" stroke="#00F500" stroke-width="2.0" stroke-dasharray="12 3"/>
<line x1="700.0" y1="328.0" x2="776.0" y2="358.4" stroke="#00F500" stroke-width="2.0" stroke-dasharray="12 3"/>
<line x1="700.0" y1="332.8" x2="776.0" y2="363.2" stroke="#00F500" stroke-width="2.0" stroke-dasharray="12 3"/>
<line x1="700.0" y1="337.6" x2="776.0" y2="368.0" stroke="#00F500" stroke-width="2.0" stroke-dasharray="12 3"/>
<line x1="782.0" y1="285.0" x2="772.0" y2="360.0" stroke="#00F5A0" stroke-width="2.2" stroke-dasharray="5 2.5"/>
<line x1="787.0" y1="285.0" x2="777.0" y2="360.0" stroke="#00F5A0" stroke-width="2.2" stroke-dasharray="5 2.5"/>
<line x1="792.0" y1="285.0" x2="782.0" y2="360.0" stroke="#00F5A0" stroke-width="2.2" stroke-dasharray="5 2.5"/>
<line x1="792.0" y1="288.0" x2="842.0" y2="310.5" stroke="#00F5A0" stroke-width="2.0" stroke-dasharray="10 3"/>
<line x1="792.0" y1="292.8" x2="842.0" y2="315.3" stroke="#00F5A0" stroke-width="2.0" stroke-dasharray="10 3"/>
<line x1="792.0" y1="297.6" x2="842.0" y2="320.1" stroke="#00F5A0" stroke-width="2.0" stroke-dasharray="10 3"/>
<line x1="792.0" y1="302.4" x2="842.0" y2="324.9" stroke="#00F5A0" stroke-width="2.0" stroke-dasharray="10 3"/>
<line x1="792.0" y1="307.2" x2="842.0" y2="329.7" stroke="#00F5A0" stroke-width="2.0" stroke-dasharray="10 3"/>
<line x1="792.0" y1="312.0" x2="842.0" y2="334.5" stroke="#00F5A0" stroke-width="2.0" stroke-dasharray="10 3"/>
<line x1="792.0" y1="316.8" x2="842.0" y2="339.3" stroke="#00F5A0" stroke-width="2.0" stroke-dasharray="10 3"/>
<line x1="792.0" y1="321.6" x2="842.0" y2="344.1" stroke="#00F5A0" stroke-width="2.0" stroke-dasharray="10 3"/>
<line x1="792.0" y1="326.4" x2="842.0" y2="348.9" stroke="#00F5A0" stroke-width="2.0" stroke-dasharray="10 3"/>
<line x1="792.0" y1="331.2" x2="842.0" y2="353.7" stroke="#00F5A0" stroke-width="2.0" stroke-dasharray="10 3"/>
<line x1="792.0" y1="336.0" x2="842.0" y2="358.5" stroke="#00F5A0" stroke-width="2.0" stroke-dasharray="10 3"/>
<line x1="792.0" y1="340.8" x2="842.0" y2="363.3" stroke="#00F5A0" stroke-width="2.0" stroke-dasharray="10 3"/>
<line x1="792.0" y1="345.6" x2="842.0" y2="368.1" stroke="#00F5A0" stroke-width="2.0" stroke-dasharray="10 3"/>
<line x1="792.0" y1="350.4" x2="842.0" y2="372.9" stroke="#00F5A0" stroke-width="2.0" stroke-dasharray="10 3"/>
<line x1="792.0" y1="355.2" x2="842.0" y2="377.7" stroke="#00F5A0" stroke-width="2.0" stroke-dasharray="10 3"/>
<line x1="792.0" y1="360.0" x2="842.0" y2="382.5" stroke="#00F5A0" stroke-width="2.0" stroke-dasharray="10 3"/></g>
<polygon points="473.0,203.0 488.6,190.7 540.0,207.0 620.0,232.5 700.0,257.8 740.0,274.6 790.0,299.0 836.3,325.3 829.4,366.0 790.0,354.0 612.0,287.0 473.0,211.0" fill="none" stroke="#fff" stroke-width="3"/></g>
<g fill="#000"><circle cx="212.3" cy="234.8" r="2.9"/>
<circle cx="220.6" cy="237.3" r="2.9"/>
<circle cx="254.8" cy="248.8" r="2.9"/>
<circle cx="262.7" cy="251.7" r="2.9"/>
<circle cx="270.6" cy="254.7" r="2.9"/>
<circle cx="278.5" cy="257.6" r="2.9"/>
<circle cx="286.4" cy="260.6" r="2.9"/>
<circle cx="294.3" cy="263.6" r="2.9"/>
<circle cx="302.2" cy="266.5" r="2.9"/>
<circle cx="310.1" cy="269.5" r="2.9"/>
<circle cx="318.0" cy="272.5" r="2.9"/>
<circle cx="325.9" cy="275.4" r="2.9"/>
<circle cx="333.8" cy="278.4" r="2.9"/>
<circle cx="365.0" cy="289.4" r="2.9"/>
<circle cx="373.0" cy="292.3" r="2.9"/>
<circle cx="381.0" cy="295.3" r="2.9"/>
<circle cx="389.0" cy="298.2" r="2.9"/>
<circle cx="397.0" cy="301.2" r="2.9"/>
<circle cx="405.0" cy="304.1" r="2.9"/>
<circle cx="413.1" cy="307.1" r="2.9"/>
<circle cx="421.1" cy="310.1" r="2.9"/>
<circle cx="429.1" cy="313.0" r="2.9"/>
<circle cx="437.1" cy="315.9" r="2.9"/>
<circle cx="445.1" cy="318.9" r="2.9"/>
<circle cx="453.1" cy="321.9" r="2.9"/>
<circle cx="461.1" cy="324.8" r="2.9"/>
<circle cx="486.1" cy="333.4" r="2.9"/>
<circle cx="493.9" cy="336.5" r="2.9"/>
<circle cx="501.7" cy="339.6" r="2.9"/>
<circle cx="509.5" cy="342.8" r="2.9"/>
<circle cx="517.3" cy="345.9" r="2.9"/>
<circle cx="541.6" cy="354.7" r="2.9"/>
<circle cx="549.6" cy="357.5" r="2.9"/>
<circle cx="557.6" cy="360.3" r="2.9"/>
<circle cx="565.7" cy="363.1" r="2.9"/>
<circle cx="573.7" cy="365.9" r="2.9"/>
<circle cx="581.7" cy="368.6" r="2.9"/>
<circle cx="589.7" cy="371.4" r="2.9"/>
<circle cx="597.7" cy="374.2" r="2.9"/>
<circle cx="605.8" cy="377.0" r="2.9"/>
<circle cx="519.6" cy="193.7" r="2.9"/>
<circle cx="515.8" cy="203.9" r="2.9"/>
<circle cx="512.0" cy="214.1" r="2.9"/>
<circle cx="508.2" cy="224.3" r="2.9"/>
<circle cx="504.4" cy="234.4" r="2.9"/>
<circle cx="500.6" cy="244.6" r="2.9"/>
<circle cx="496.8" cy="254.8" r="2.9"/>
<circle cx="493.0" cy="265.0" r="2.9"/>
<circle cx="479.8" cy="304.7" r="2.9"/>
<circle cx="476.2" cy="314.7" r="2.9"/>
<circle cx="468.9" cy="334.7" r="2.9"/>
<circle cx="465.2" cy="344.6" r="2.9"/>
<circle cx="461.5" cy="354.5" r="2.9"/>
<circle cx="457.7" cy="364.4" r="2.9"/>
<circle cx="454.0" cy="374.4" r="2.9"/>
<circle cx="450.3" cy="384.3" r="2.9"/>
<circle cx="446.6" cy="394.2" r="2.9"/>
<circle cx="442.9" cy="404.1" r="2.9"/>
<circle cx="439.2" cy="414.0" r="2.9"/>
<circle cx="435.4" cy="423.9" r="2.9"/>
<circle cx="431.7" cy="433.8" r="2.9"/>
<circle cx="428.0" cy="443.8" r="2.9"/></g>
<text x="169.5" y="233" font-family="Liberation Serif" font-size="46">A</text>
<text x="512" y="171" font-family="Liberation Serif" font-size="47">B</text>
<text transform="translate(833,355) rotate(20)" font-family="Liberation Serif" font-size="52.5">22307</text>
<text transform="translate(606,505) rotate(20)" font-family="Liberation Serif" font-size="52.5">52304</text>
</g>
<!-- date box -->
<rect x="59" y="55" width="392" height="50" fill="#fff"/>
<text transform="translate(62.6,96.2) scale(0.97,1)" font-family="Liberation Serif" font-size="41.2">12/13/2012-04/02/2013</text>
<!-- north arrow -->
<rect x="933" y="55" width="41" height="100" fill="#fff"/>
<text x="953.5" y="77.5" font-family="Liberation Sans" font-size="27" text-anchor="middle">N</text>
<path d="M954 85 L933.5 153 L954 129 Z" fill="#000"/>
<path d="M954 85 L974.5 153 L954 129 Z" fill="#fff" stroke="#000" stroke-width="1.5"/>
<!-- legend box -->
<rect x="59" y="487" width="419" height="160" fill="#fff"/>
<g>
<text transform="scale(1.12,1)" x="51.78 64.92 78.06 104.35 117.49 130.63 143.78 156.92 170.06 183.21 196.35 209.49 222.63 235.78 248.92 262.06 275.21 288.35 301.49" y="514" font-family="Liberation Mono" font-weight="normal" font-size="25.5" stroke="#000" stroke-width="0.3">LOSDisplacement(mm)</text>
<g fill="#6e6e6e">
<rect x="64.5" y="530" width="31.5" height="23" rx="3"/>
<rect x="64.5" y="561" width="31.5" height="23" rx="3"/>
<rect x="64.5" y="592" width="31.5" height="23" rx="3"/>
<rect x="64.5" y="623" width="31.5" height="23" rx="3"/>
<rect x="284" y="530" width="31.5" height="23" rx="3"/>
<rect x="284" y="561" width="31.5" height="23" rx="3"/>
<rect x="284" y="592" width="31.5" height="23" rx="3"/>
<rect x="284" y="623" width="31.5" height="23" rx="3"/>
</g>
<rect x="70.2" y="535.5" width="20.3" height="11.5" fill="#FF0000"/>
<rect x="70.2" y="566.5" width="20.3" height="11.5" fill="#FF5A00"/>
<rect x="70.2" y="597.5" width="20.3" height="11.5" fill="#FFA000"/>
<rect x="70.2" y="628.5" width="20.3" height="11.5" fill="#FFDD00"/>
<rect x="289.7" y="535.5" width="20.3" height="11.5" fill="#DDFF00"/>
<rect x="289.7" y="566.5" width="20.3" height="11.5" fill="#80F000"/>
<rect x="289.7" y="597.5" width="20.3" height="11.5" fill="#00F000"/>
<rect x="289.7" y="628.5" width="20.3" height="11.5" fill="#00F5A0"/>
<path d="M130.0,530.5 L111.0,541.0 L130.0,546.5 M111.5,544.5 L130.0,550.0" fill="none" stroke="#000" stroke-width="1.6"/>
<text x="133.68 146.18 158.68 171.18 183.68" y="549" font-family="Liberation Serif" font-weight="normal" font-size="22.3" >–3000</text>
<text x="108.17 120.67 133.18 145.68 158.18 170.68 195.68 208.18 220.68 233.18 245.68" y="580" font-family="Liberation Serif" font-weight="normal" font-size="22.3" >–3000––2500</text>
<text x="108.17 120.67 133.18 145.68 158.18 170.68 195.68 208.18 220.68 233.18 245.68" y="611" font-family="Liberation Serif" font-weight="normal" font-size="22.3" >–2500––2000</text>
<text x="108.17 120.67 133.18 145.68 158.18 170.68 195.68 208.18 220.68 233.18 245.68" y="642" font-family="Liberation Serif" font-weight="normal" font-size="22.3" >–2000––1500</text>
<text x="327.74 340.36 352.98 365.60 378.22 390.84 416.08 428.70 441.32 453.94 466.56" y="549" font-family="Liberation Serif" font-weight="normal" font-size="22.3" >–1500––1000</text>
<text x="327.74 340.36 352.98 365.60 378.22 390.84 416.08 428.70 441.32 453.94" y="580" font-family="Liberation Serif" font-weight="normal" font-size="22.3" >–1000––500</text>
<text x="327.74 340.36 352.98 365.60 378.22 403.46" y="611" font-family="Liberation Serif" font-weight="normal" font-size="22.3" >–500–0</text>
<path d="M330.0,623.5 L349.0,634.0 L330.0,639.5 M330.0,643.0 L348.5,637.5" fill="none" stroke="#000" stroke-width="1.6"/>
<text x="352.98" y="642" font-family="Liberation Serif" font-weight="normal" font-size="22.3" >0</text>
</g>
<!-- scale box -->
<rect x="510" y="568" width="464" height="79" fill="#fff"/>
<text x="730.5" y="592" font-family="Liberation Serif" font-size="25.5" text-anchor="middle">Meters</text>
<rect x="514" y="596" width="435" height="19" rx="2" fill="#000"/>
<rect x="627" y="601" width="101.5" height="8" fill="#fff"/>
<g font-family="Liberation Serif" font-size="25">
<text x="510.5" y="639">0</text>
<text x="622" y="639" text-anchor="middle">250</text>
<text x="728.8" y="639" text-anchor="middle">500</text>
<text x="973" y="639" text-anchor="end">1,000</text>
</g>
<!-- frame -->
<path d="M53 50 H980 V652 H53 Z M59 55 V646 H974 V55 Z" fill="#000" fill-rule="evenodd"/>
<g stroke="#000" stroke-width="2">
<line x1="270.5" y1="45" x2="270.5" y2="50"/>
<line x1="577" y1="45" x2="577" y2="50"/>
<line x1="883.5" y1="45" x2="883.5" y2="50"/>
<line x1="265.5" y1="652" x2="265.5" y2="657"/>
<line x1="572" y1="652" x2="572" y2="657"/>
<line x1="880" y1="652" x2="880" y2="657"/>
<line x1="48" y1="129" x2="53" y2="129"/>
<line x1="48" y1="524" x2="53" y2="524"/>
<line x1="980" y1="135" x2="985" y2="135"/>
<line x1="980" y1="530" x2="985" y2="530"/>
</g>
<g class="ax" text-anchor="middle">
<text x="270" y="40.8">110°18'30"E</text>
<text x="576" y="40.8">110°19'0"E</text>
<text x="883" y="40.8">110°19'30"E</text>
<text x="265" y="678.5">110°18'30"E</text>
<text x="571" y="678.5">110°19'0"E</text>
<text x="879" y="678.5">110°19'30"E</text>
<text transform="translate(43,128) rotate(-90)">39°17'30"N</text>
<text transform="translate(43,524) rotate(-90)">39°17'0"N</text>
<text transform="translate(1008,136) rotate(-90)">39°17'30"N</text>
<text transform="translate(1008,529) rotate(-90)">39°17'0"N</text>
</g>
</svg>
</body></html>
